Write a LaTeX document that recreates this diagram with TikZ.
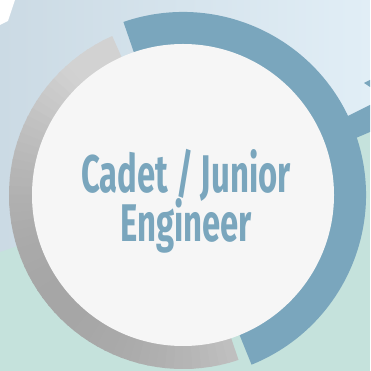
\documentclass[tikz,border=0pt]{standalone}
\usepackage{fontspec}
\usetikzlibrary{calc}
\newfontfamily\titlefont{Fira Sans}[FakeStretch=0.62]

\definecolor{skyblue}{HTML}{E1EEF6}
\definecolor{skyshade}{HTML}{CBDAE4}
\definecolor{mint}{HTML}{C5E2DC}
\definecolor{ringblue}{HTML}{7AA6BD}
\definecolor{ringlight}{HTML}{D2D2D2}
\definecolor{ringdark}{HTML}{A6A6A6}
\definecolor{discwhite}{HTML}{F6F6F6}

\tikzset{
  title/.style={font=\titlefont\bfseries\fontsize{53}{49}\selectfont, text=ringblue, anchor=base, inner sep=0pt}
}

\begin{document}
\begin{tikzpicture}[x=1pt,y=1pt]
  \useasboundingbox (0,0) rectangle (370,371);

  % background
  \fill [mint] (0,0) rectangle (370,371);
  \shade [left color=skyshade, right color=skyblue] (0,119) -- (370,248) -- (370,371) -- (0,371) -- cycle;
  \fill [white] (0,371) -- (15,371) -- (8,350) -- (0,346) -- cycle;
  \fill [ringblue] (330,222) -- (370,239) -- (370,266) -- (330,246) -- cycle;
  \fill [ringblue] (364,288) -- (370,291) -- (370,284) -- cycle;

  \coordinate (c) at (183,176);

  % grey ring, darker towards the lower left
  \foreach \a in {114,117,...,285} {
    \pgfmathsetmacro{\t}{100*max(0,cos(\a+1.5-222))}
    \fill [ringdark!\t!ringlight] ($(c)+(\a:174)$) arc [start angle=\a, end angle=\a+3.6, radius=174]
      -- ($(c)+(\a+3.6:150)$) arc [start angle=\a+3.6, end angle=\a, radius=150] -- cycle;
  }

  % blue ring
  \fill [ringblue] ($(c)+(109:183)$) arc [start angle=109, end angle=-68, radius=183]
    -- ($(c)+(-68:150)$) arc [start angle=-68, end angle=109, radius=150] -- cycle;

  \fill [discwhite] (c) circle (151);

  \node [title] (cadet) at (186,178) {Cadet / Junior};
  \node [title] (engineer) at (186,129) {Engineer};

\end{tikzpicture}
\end{document}
